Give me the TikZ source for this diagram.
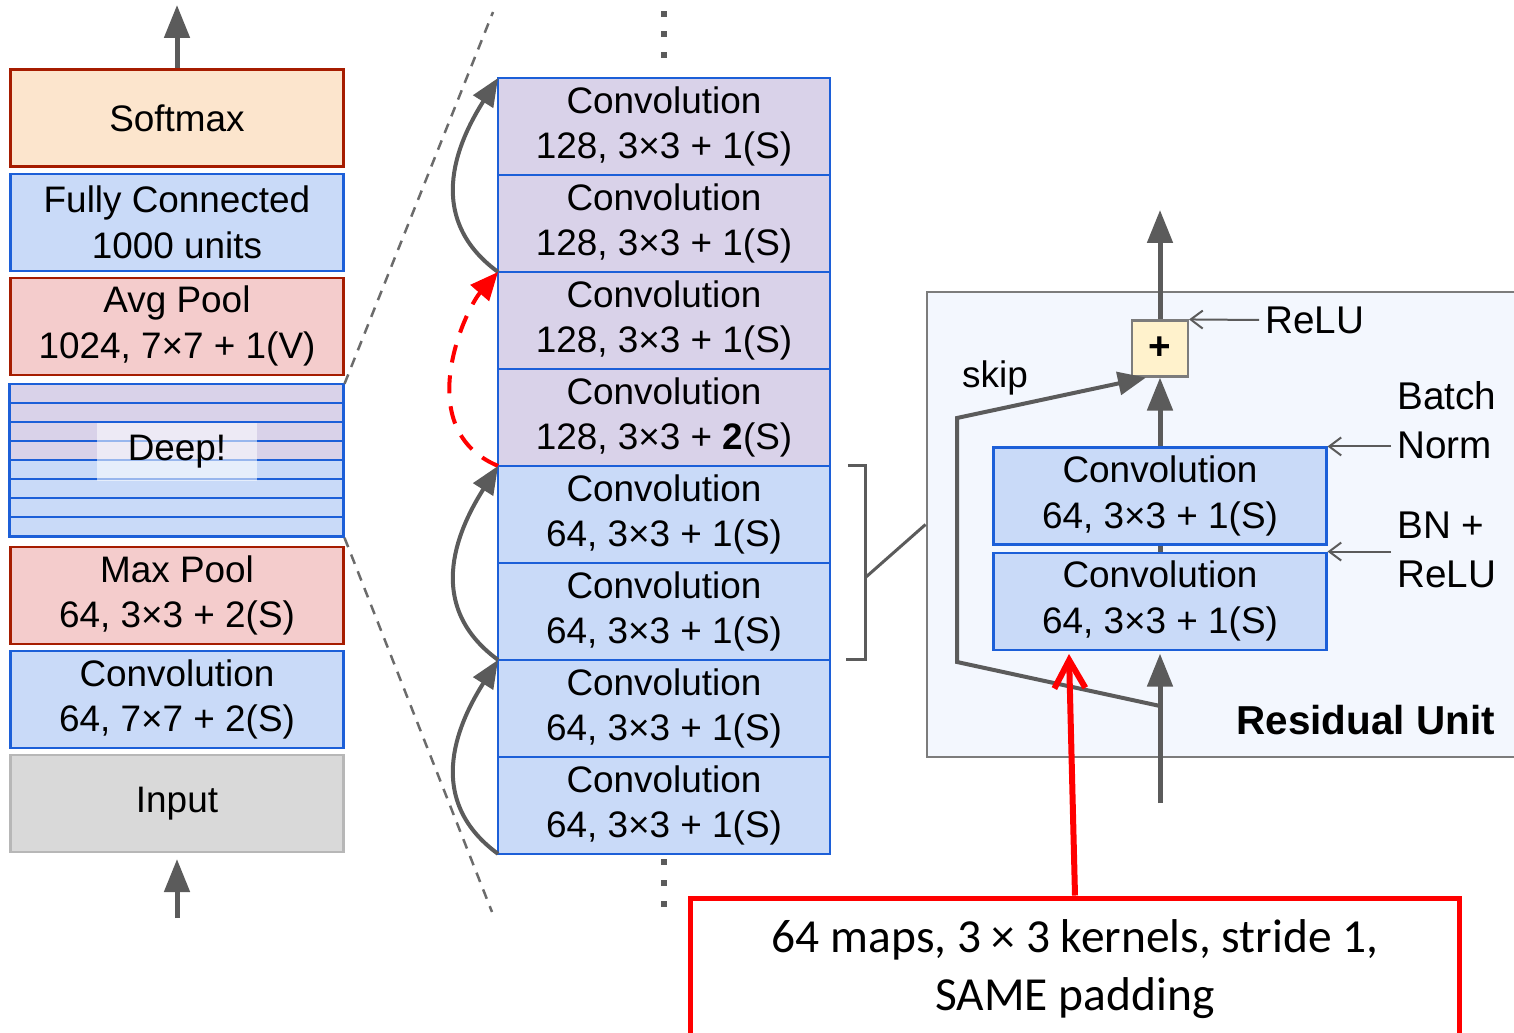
\documentclass[tikz,border=0pt]{standalone}
\usepackage{fontspec}
\setmainfont{Liberation Sans}
\newfontfamily\notefont{Carlito}
\usetikzlibrary{arrows.meta, positioning, calc}

\definecolor{LayerRed}{HTML}{A61C00}
\definecolor{LayerBlue}{HTML}{1C5FD8}
\definecolor{LayerOrange}{HTML}{FCE5CD}
\definecolor{LayerSky}{HTML}{C9DAF8}
\definecolor{LayerPink}{HTML}{F4CCCC}
\definecolor{LayerPurple}{HTML}{D9D2E9}
\definecolor{LayerGray}{HTML}{D9D9D9}
\definecolor{LayerEdge}{HTML}{B7B7B7}
\definecolor{FlowGray}{HTML}{5B5B5B}
\definecolor{UnitFill}{HTML}{F3F7FE}
\definecolor{PlusFill}{HTML}{FFF2CC}
\definecolor{NoteRed}{HTML}{FF0000}

\tikzset{
    % Text size for all nodes
    every node/.style={font=\fontsize{21}{26}\selectfont},
    % Layer box (left column)
    layer/.style={
        rectangle,
        minimum width=6.66cm,
        minimum height=1.94cm,
        line width=1.2pt,
        inner sep=0pt,
        align=center
    },
    % Softmax layer
    softbox/.style={layer, draw=LayerRed, fill=LayerOrange},
    % Pooling layer
    poolbox/.style={layer, draw=LayerRed, fill=LayerPink},
    % Convolution / dense layer
    convbox/.style={layer, draw=LayerBlue, fill=LayerSky},
    % Input layer
    inputbox/.style={layer, draw=LayerEdge, fill=LayerGray},
    % Stacked convolution (middle column)
    stackbox/.style={
        rectangle,
        draw=LayerBlue,
        fill=LayerSky,
        minimum width=6.64cm,
        minimum height=1.94cm,
        line width=1.2pt,
        inner sep=0pt,
        outer sep=0pt,
        align=center
    },
    % Stacked convolution, 128 maps
    widebox/.style={stackbox, fill=LayerPurple},
    % Convolution inside the residual unit
    unitconv/.style={layer, draw=LayerBlue, fill=LayerSky, minimum width=6.66cm},
    % Residual unit frame
    unitframe/.style={
        rectangle,
        draw=FlowGray!80,
        fill=UnitFill,
        line width=1.2pt,
        minimum width=12.3cm,
        minimum height=9.3cm
    },
    % Sum node
    plusbox/.style={
        rectangle,
        draw=FlowGray!80,
        fill=PlusFill,
        line width=1.2pt,
        minimum size=1.12cm,
        inner sep=0pt,
        font=\fontsize{22}{26}\selectfont\bfseries
    },
    % Side labels
    sidelabel/.style={
        anchor=west,
        align=left,
        font=\fontsize{22}{28}\selectfont
    },
    % Main data flow arrow
    flow/.style={
        -{Triangle[length=0.66cm, width=0.5cm]},
        line width=0.1cm,
        color=FlowGray
    },
    % Skip connection arrow
    skipflow/.style={
        -{Triangle[length=0.56cm, width=0.46cm]},
        line width=0.08cm,
        color=FlowGray
    },
    % Dashed skip (stride 2)
    redskip/.style={
        -{Triangle[length=0.56cm, width=0.48cm]},
        line width=0.08cm,
        dash pattern=on 0.36cm off 0.26cm,
        color=NoteRed
    },
    % Label pointer
    pointer/.style={
        -{Straight Barb[length=0.24cm, width=0.36cm]},
        line width=0.04cm,
        color=FlowGray
    },
    % Zoom guide line
    guide/.style={
        dashed,
        dash pattern=on 0.2cm off 0.16cm,
        line width=0.05cm,
        color=FlowGray!90
    },
    % Bracket line
    bracket/.style={line width=0.06cm, color=FlowGray},
    % Note box
    notebox/.style={
        rectangle,
        draw=NoteRed,
        fill=white,
        line width=0.1cm,
        minimum width=15.4cm,
        minimum height=2.84cm,
        align=center,
        font=\notefont\fontsize{27}{33}\selectfont
    },
    % Note arrow
    notearrow/.style={
        -{Straight Barb[length=0.56cm, width=0.62cm]},
        line width=0.12cm,
        color=NoteRed
    }
}

\begin{document}
\begin{tikzpicture}[x=0.02cm, y=-0.02cm]
    \useasboundingbox (0,0) rectangle (1514,1033);
    \clip (0,0) rectangle (1514,1033);

    % Left column
    \node (softmax) [softbox] at (177,118) {Softmax};
    \node (fc) [convbox, below=0.1cm of softmax] {Fully Connected\\1000 units};
    \node (avgpool) [poolbox, below=0.1cm of fc] {Avg Pool\\1024, 7×7 + 1(V)};
    \node (deep) [layer, minimum height=3.04cm, below=0.16cm of avgpool] {};
    \node (maxpool) [poolbox, below=0.16cm of deep] {Max Pool\\64, 3×3 + 2(S)};
    \node (conv7) [convbox, below=0.1cm of maxpool] {Convolution\\64, 7×7 + 2(S)};
    \node (input) [inputbox, below=0.1cm of conv7] {Input};

    % Deep stack stripes
    \foreach \i in {0,...,7} {
        \ifnum\i<4
            \filldraw[fill=LayerPurple, draw=LayerBlue, line width=1.2pt]
                ($(deep.north west)+(0,19.1*\i)$) rectangle ++(334,19.1);
        \else
            \filldraw[fill=LayerSky, draw=LayerBlue, line width=1.2pt]
                ($(deep.north west)+(0,19.1*\i)$) rectangle ++(334,19.1);
        \fi
    }
    \node (deeplabel) [fill=white, fill opacity=0.55, text opacity=1,
        minimum width=3.22cm, minimum height=1.16cm] at (177,452) {Deep!};

    \coordinate (outleft) at (177,5);
    \coordinate (inleft) at (177,918);
    \draw [flow] (softmax.north) -- (outleft);
    \draw [flow, shorten >=0.12cm] (inleft) -- (input.south);

    % Middle column
    \node (m1) [widebox] at (664,126.5) {Convolution\\128, 3×3 + 1(S)};
    \node (m2) [widebox, below=0pt of m1] {Convolution\\128, 3×3 + 1(S)};
    \node (m3) [widebox, below=0pt of m2] {Convolution\\128, 3×3 + 1(S)};
    \node (m4) [widebox, below=0pt of m3] {Convolution\\128, 3×3 + \textbf{2}(S)};
    \node (m5) [stackbox, below=0pt of m4] {Convolution\\64, 3×3 + 1(S)};
    \node (m6) [stackbox, below=0pt of m5] {Convolution\\64, 3×3 + 1(S)};
    \node (m7) [stackbox, below=0pt of m6] {Convolution\\64, 3×3 + 1(S)};
    \node (m8) [stackbox, below=0pt of m7] {Convolution\\64, 3×3 + 1(S)};

    % Skip connections
    \draw [skipflow] (m3.north west) .. controls +(-78,-57) and +(-36,57) .. (m1.north west);
    \draw [redskip] (m5.north west) .. controls +(-88,-37) and +(-33,38) .. (m3.north west);
    \draw [skipflow] (m7.north west) .. controls +(-78,-57) and +(-36,57) .. (m5.north west);
    \draw [skipflow] (m8.south west) .. controls +(-78,-57) and +(-36,57) .. (m7.north west);

    % Zoom guides
    \coordinate (topfar) at (493,12);
    \coordinate (botfar) at (492,912);
    \draw [guide] (deep.north east) -- (topfar);
    \draw [guide] (deep.south east) -- (botfar);

    % More layers
    \foreach \y in {14,34,55,862,883,904} {
        \fill[FlowGray] ({664-2.6},{\y-2.6}) rectangle ++(5.2,5.2);
    }

    % Residual unit
    \node (resunit) [unitframe] at (1234,524.5) {};
    \draw [bracket] ([xshift=0.36cm]m5.north east) -- ++(18,0) |- ([xshift=0.32cm]m6.south east);
    \coordinate (brk) at (866,577);
    \draw [bracket] (brk) -- (resunit.west);

    \node (plus) [plusbox] at (1160,348.5) {+};
    \node (conv1) [unitconv] at (1160,496) {Convolution\\64, 3×3 + 1(S)};
    \node (conv2) [unitconv, below=0.12cm of conv1] {Convolution\\64, 3×3 + 1(S)};

    \coordinate (outtop) at (1160,210);
    \coordinate (inbot) at (1160,803);
    \coordinate (split) at (1160,706);
    \draw [flow] (plus.north) -- (outtop);
    \draw [flow] (conv1.north) -- (plus.south);
    \draw [line width=0.1cm, color=FlowGray] (conv2.north) -- (conv1.south);
    \draw [flow, shorten >=0.06cm] (inbot) -- (conv2.south);
    \draw [skipflow] (split) -- ++(-203,-44) -- ++(0,-244) -- ([xshift=0.3cm]plus.south west);

    \node (skip) at (995,378) {skip};
    \node (relu) [sidelabel] at (1259,320) {ReLU};
    \node (bnorm) [sidelabel] at (1391,420) {Batch\\Norm};
    \node (bnrelu) [sidelabel] at (1391,550) {BN +\\ReLU};
    \node (unitname) [anchor=east, font=\fontsize{23}{26}\selectfont\bfseries] at (1501,720) {Residual Unit};

    \draw [pointer] (relu.west) -- (plus.north east);
    \draw [pointer] (bnorm.west |- conv1.north east) -- (conv1.north east);
    \draw [pointer] (bnrelu.west |- conv2.north east) -- (conv2.north east);

    % Note
    \node (note) [notebox] at (1075,969) {64 maps, 3 × 3 kernels, stride 1,\\SAME padding};
    \coordinate (hit) at (1069,654);
    \draw [notearrow] (note.north) -- (hit);
\end{tikzpicture}
\end{document}
